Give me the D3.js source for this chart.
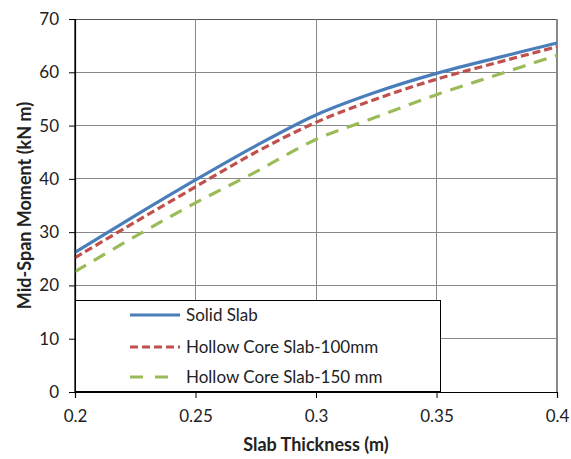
<!DOCTYPE html>
<html><head><meta charset="utf-8">
<script src="https://cdn.jsdelivr.net/npm/d3@7"></script>
<style>body{margin:0;background:#fff}svg{display:block}text{font-family:Lato,"Open Sans",sans-serif;fill:#222}</style>
</head><body><svg id="c" width="571" height="459"></svg>
<script>
const thickness = [0.2, 0.225, 0.25, 0.275, 0.3, 0.325, 0.35, 0.375, 0.4];
const solidSlab = [26.2, 33.1, 39.8, 46.2, 52.0, 56.3, 59.8, 62.7, 65.5];
const hollow100 = [25.2, 31.9, 38.5, 45.0, 50.6, 55.0, 58.7, 61.8, 64.8];
const hollow150 = [22.6, 29.2, 35.5, 41.3, 47.4, 51.6, 55.8, 59.5, 63.2];
const seriesNames = ["Solid Slab", "Hollow Core Slab-100mm", "Hollow Core Slab-150 mm"];
const xTicks = [0.2, 0.25, 0.3, 0.35, 0.4];
const yTicks = [0, 10, 20, 30, 40, 50, 60, 70];

const svg = d3.select("#c");
const L = 75, R = 557, T = 19, B = 392;
const x = d3.scaleLinear().domain([0.2, 0.4]).range([L, R]);
const y = d3.scaleLinear().domain([0, 70]).range([B, T]);

// grid
svg.append("g").selectAll("line").data(yTicks.slice(1)).join("line")
  .attr("x1", L).attr("x2", R).attr("y1", d => y(d)).attr("y2", d => y(d))
  .attr("stroke", d => d === 70 ? "#555" : "#888").attr("stroke-width", 1).attr("shape-rendering", "crispEdges");
svg.append("g").selectAll("line").data(xTicks.slice(1)).join("line")
  .attr("y1", T).attr("y2", B).attr("x1", d => x(d)).attr("x2", d => x(d))
  .attr("stroke", "#888").attr("stroke-width", d => d === 0.4 ? 1.5 : 1).attr("shape-rendering", "crispEdges");

// axes
const xAxis = svg.append("g").attr("transform", `translate(0,${B})`)
  .call(d3.axisBottom(x).tickValues(xTicks).tickFormat(d3.format("")).tickSize(6).tickPadding(12));
const yAxis = svg.append("g").attr("transform", `translate(${L},0)`)
  .call(d3.axisLeft(y).tickValues(yTicks).tickSize(6).tickPadding(10));
[xAxis, yAxis].forEach(a => {
  a.select(".domain").attr("stroke", "#000").attr("stroke-width", 1.2);
  a.selectAll(".tick line").attr("stroke", "#000");
  a.selectAll(".tick text").attr("font-size", 17).attr("fill", "#222").style("font-family", "Lato,sans-serif");
});

// lines
const series = [
  {vals: solidSlab, color: "#4a7ebb", dash: null},
  {vals: hollow100, color: "#c0504d", dash: "8,4"},
  {vals: hollow150, color: "#9bbb59", dash: "13,9"}
];
const line = d3.line().x(d => x(d[0])).y(d => y(d[1])).curve(d3.curveCatmullRom.alpha(0.5));
series.forEach(s => {
  svg.append("path").datum(thickness.map((t, i) => [t, s.vals[i]]))
    .attr("d", line).attr("fill", "none").attr("stroke", s.color).attr("stroke-width", 3.2)
    .attr("stroke-dasharray", s.dash);
});

// legend
const lg = svg.append("g");
lg.append("rect").attr("x", 75.5).attr("y", 300.5).attr("width", 365).attr("height", 91)
  .attr("fill", "#fff").attr("stroke", "#000").attr("stroke-width", 1);
const rowsY = [315, 347, 377];
const legendDash = [null, "8,4", "13,12"];
series.forEach((s, i) => {
  lg.append("line").attr("x1", 130).attr("x2", 180).attr("y1", rowsY[i]).attr("y2", rowsY[i])
    .attr("stroke", s.color).attr("stroke-width", 3.2).attr("stroke-dasharray", legendDash[i]);
  lg.append("text").attr("x", 186).attr("y", rowsY[i]).attr("dy", "0.35em")
    .attr("font-size", 17).text(seriesNames[i]);
});
// redraw y-axis line over legend
svg.append("line").attr("x1", L).attr("x2", L).attr("y1", T).attr("y2", B).attr("stroke", "#000").attr("stroke-width", 1.2);

// titles
svg.append("text").attr("x", (L + R) / 2).attr("y", 451).attr("text-anchor", "middle")
  .attr("font-size", 18).attr("font-weight", "bold").attr("fill", "#000").text("Slab Thickness (m)");
svg.append("text").attr("transform", `translate(31,${(T + B) / 2}) rotate(-90)`).attr("text-anchor", "middle")
  .attr("font-size", 18).attr("font-weight", "bold").attr("fill", "#000").text("Mid-Span Moment (kN m)");
</script></body></html>
